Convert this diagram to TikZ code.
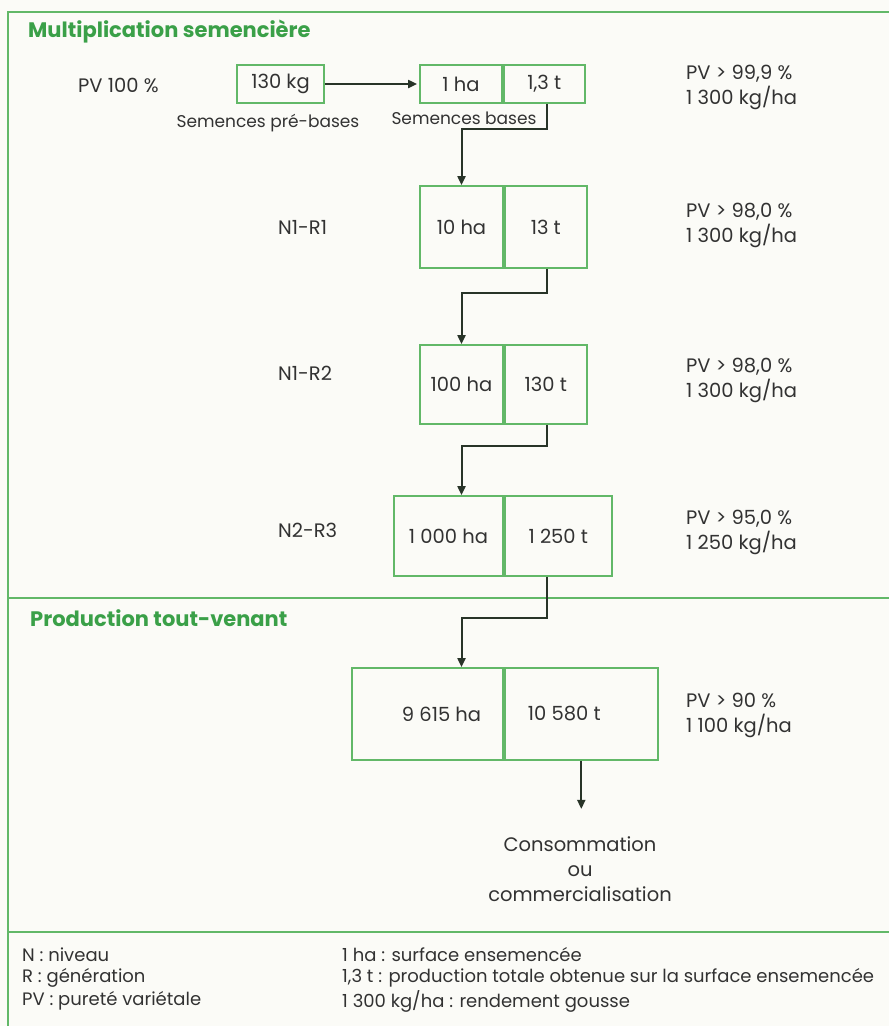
\documentclass[tikz,border=0pt]{standalone}
\usepackage{fontspec}
\setmainfont{Poppins}
\usetikzlibrary{arrows.meta,calc}
\definecolor{frameg}{RGB}{98,184,104}
\definecolor{titleg}{RGB}{58,160,72}
\definecolor{ink}{RGB}{50,50,50}
\definecolor{connc}{RGB}{40,52,40}
\definecolor{paper}{RGB}{251,251,247}
\begin{document}
\begin{tikzpicture}[x=1pt,y=-1pt,
  cell/.style={draw=frameg,line width=1.8pt,inner sep=0pt,text=ink,font=\fontsize{19.5}{23}\selectfont},
  lbl/.style={text=ink,inner sep=0pt,font=\fontsize{19.5}{25}\selectfont,align=left},
  sml/.style={text=ink,inner sep=0pt,font=\fontsize{17}{20}\selectfont},
  lgd/.style={text=ink,inner sep=0pt,anchor=west,font=\fontsize{18}{21}\selectfont},
  ttl/.style={text=titleg,inner sep=0pt,anchor=west,font=\fontsize{21}{24}\selectfont\bfseries},
  frm/.style={draw=frameg,line width=1.8pt},
  conn/.style={draw=connc,line width=2pt},
  arr/.style={conn,-{Triangle[length=9pt,width=8pt]}}]
\fill[paper] (0,0) rectangle (889,1026);
\useasboundingbox (0,0) rectangle (889,1026);
% frame
\draw[frm] (8,1026) -- (8,12) -- (889,12);
\draw[frm] (8,598) -- (889,598);
\draw[frm] (8,932) -- (889,932);
% titles
\node[ttl] (t1) at (28,32) {Multiplication semencière};
\node[ttl] (t2) at (30,618) {Production tout-venant};
% boxes
\node[cell,minimum width=87pt,minimum height=38pt] (pre) at (280.5,84) {130 kg};
\node[cell,minimum width=82pt,minimum height=38pt] (b1a) at (461,84) {1 ha};
\node[cell,minimum width=81pt,minimum height=38pt,anchor=west] (b1b) at (b1a.east) {1,3 t};
\node[cell,minimum width=83pt,minimum height=82pt] (r1a) at (461.5,227) {10 ha};
\node[cell,minimum width=82pt,minimum height=82pt,anchor=west] (r1b) at (r1a.east) {13 t};
\node[cell,minimum width=83pt,minimum height=79pt] (r2a) at (461.5,384.5) {100 ha};
\node[cell,minimum width=82pt,minimum height=79pt,anchor=west] (r2b) at (r2a.east) {130 t};
\node[cell,minimum width=109pt,minimum height=80pt] (r3a) at (448.5,536) {1 000 ha};
\node[cell,minimum width=107pt,minimum height=80pt,anchor=west] (r3b) at (r3a.east) {1 250 t};
\node[cell,minimum width=151pt,minimum height=92pt] (fa) at (427.5,714) {\hspace*{28pt}9 615 ha};
\node[cell,minimum width=153pt,minimum height=92pt,anchor=west] (fb) at (fa.east) {10 580 t\hspace*{34pt}};
% left labels
\node[lbl,anchor=west] (pv) at (78,85) {PV 100 \%};
\node[sml] (spb) at (268,123) {Semences pré-bases};
\node[sml] (sb) at (464,118) {Semences bases};
\node[lbl,anchor=west] (l1) at (278,227) {N1-R1};
\node[lbl,anchor=west] (l2) at (278,373) {N1-R2};
\node[lbl,anchor=west] (l3) at (278,530) {N2-R3};
% right labels
\node[lbl,anchor=west] (p0) at (686,87) {PV > 99,9 \%\\1 300 kg/ha};
\node[lbl,anchor=west] (p1) at (686,225) {PV > 98,0 \%\\1 300 kg/ha};
\node[lbl,anchor=west] (p2) at (686,380) {PV > 98,0 \%\\1 300 kg/ha};
\node[lbl,anchor=west] (p3) at (686,532) {PV > 95,0 \%\\1 250 kg/ha};
\node[lbl,anchor=west] (p4) at (686,715) {PV > 90 \%\\1 100 kg/ha};
% consumption
\node[lbl,align=center] (cons) at (580,869) {Consommation\\ou\\commercialisation};
% connectors
\draw[arr,shorten >=2pt] (pre.east) -- (b1a.west);
\draw[arr] ([xshift=3pt]b1b.south) -- ++(0,25) -| (r1a.north);
\draw[arr] ([xshift=1pt]r1b.south) -- ++(0,24) -| (r2a.north);
\draw[arr] ([xshift=1pt]r2b.south) -- ++(0,21) -| (r3a.north -| r1a.center);
\draw[arr] ([xshift=-11pt]r3b.south) -- ++(0,41) -| (fa.north -| r1a.center);
\draw[arr] (fb.south) -- ++(0,48);
% legend
\node[lgd] (g1) at (22,955) {N : niveau};
\node[lgd] (g2) at (22,978) {R : génération};
\node[lgd] (g3) at (22,1001) {PV : pureté variétale};
\node[lgd] (g4) at (342,955) {1 ha : surface ensemencée};
\node[lgd] (g5) at (342,978) {1,3 t : production totale obtenue sur la surface ensemencée};
\node[lgd] (g6) at (342,1001) {1 300 kg/ha : rendement gousse};
\end{tikzpicture}
\end{document}
